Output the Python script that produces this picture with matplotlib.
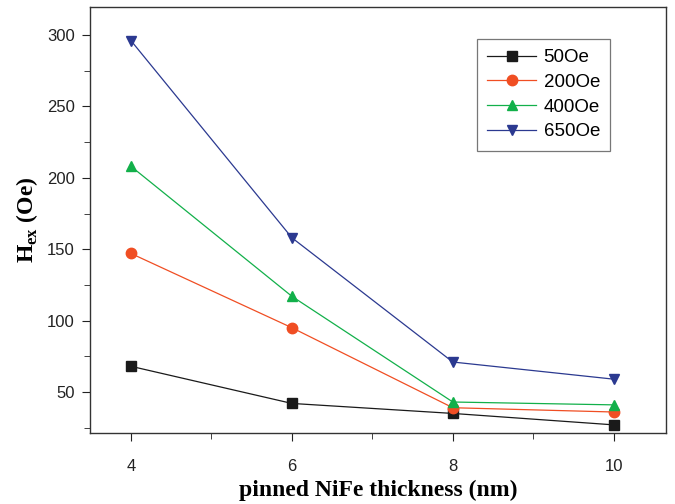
import matplotlib
matplotlib.use("Agg")
import matplotlib.pyplot as plt
from matplotlib.ticker import MultipleLocator

plt.rcParams["mathtext.fontset"] = "custom"
plt.rcParams["mathtext.rm"] = "Liberation Serif"
plt.rcParams["mathtext.bf"] = "Liberation Serif:bold"

thickness = [4, 6, 8, 10]
h_50 = [68, 42, 35, 27]
h_200 = [147, 95, 39, 36]
h_400 = [208, 117, 43, 41]
h_650 = [296, 158, 71, 59]

series = [
  ("50Oe", h_50, "#1a1a1a", "s"),
  ("200Oe", h_200, "#f04e23", "o"),
  ("400Oe", h_400, "#12b04a", "^"),
  ("650Oe", h_650, "#2b3990", "v"),
]

fig = plt.figure(figsize=(6.75, 5.04), dpi=100)
ax = fig.add_axes([90/675, 1 - 433/504, (666-90)/675, (433-7)/504])

for name, vals, col, mk in series:
  ax.plot(thickness, vals, color=col, marker=mk, markersize=7.5, linewidth=0.9, label=name)

ax.set_xlim(3.49, 10.65)
ax.set_ylim(21.3, 319.6)
ax.xaxis.set_major_locator(MultipleLocator(2))
ax.xaxis.set_minor_locator(MultipleLocator(1))
ax.yaxis.set_major_locator(MultipleLocator(50))
ax.yaxis.set_minor_locator(MultipleLocator(25))
ax.tick_params(which="both", direction="out", top=False, right=False,
               labelsize=12, colors="#222222")
ax.tick_params(which="major", length=6, pad=5)
ax.tick_params(which="minor", length=4)
ax.tick_params(axis="x", which="major", pad=13)
for lab in ax.get_xticklabels() + ax.get_yticklabels():
  lab.set_family("Liberation Sans")
for sp in ax.spines.values():
  sp.set_linewidth(1.0)
  sp.set_color("#333333")

ax.set_xlabel("pinned NiFe thickness (nm)", family="Liberation Serif",
              fontweight="bold", fontsize=17, labelpad=4)
ax.set_ylabel(r"$\mathbf{H}_{\mathbf{ex}}$ (Oe)", family="Liberation Serif",
              fontweight="bold", fontsize=17, labelpad=5)

leg = ax.legend(loc="upper left", bbox_to_anchor=(0.672, 0.925), frameon=True,
                fancybox=False, edgecolor="#555555",
                prop={"family": "Liberation Sans", "size": 13.5},
                handlelength=2.6, borderpad=0.55, labelspacing=0.4,
                handletextpad=0.4, borderaxespad=0)
leg.get_frame().set_linewidth(0.9)

fig.savefig("out.png", dpi=100)
